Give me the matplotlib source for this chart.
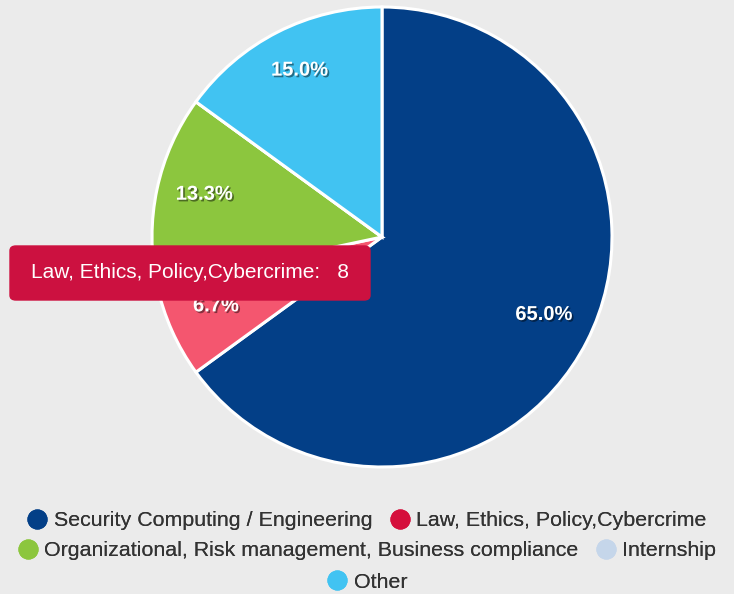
import matplotlib
matplotlib.use("Agg")
import matplotlib.pyplot as plt
import matplotlib.patheffects as pe
import matplotlib.transforms as mtransforms
from matplotlib.patches import FancyBboxPatch
from matplotlib.lines import Line2D

categories = ["Security Computing / Engineering", "Law, Ethics, Policy,Cybercrime",
              "Organizational, Risk management, Business compliance", "Internship", "Other"]
values = [78, 8, 16, 0, 18]
colors = ["#033f87", "#d50f3c", "#8cc63e", "#c5d6ea", "#41c3f2"]
hover_color = "#f4566f"
hover_index = 1
tooltip_text = "Law, Ethics, Policy,Cybercrime:   8"

plt.rcParams['font.family'] = ['Liberation Sans', 'DejaVu Sans']
BG = "#ebebeb"
W, H = 734, 594
fig = plt.figure(figsize=(W / 100, H / 100), dpi=100, facecolor=BG)

cx, cy, r = 382, 237, 230
ax = fig.add_axes([(cx - r) / W, (H - cy - r) / H, 2 * r / W, 2 * r / H])
ax.set_facecolor(BG)
ax.axis("off")

slice_colors = [hover_color if i == hover_index else c for i, c in enumerate(colors)]

def fmt(p):
    return "" if p < 0.05 else f"{p:.1f}%"

wedges, texts, autotexts = ax.pie(
    values, colors=slice_colors, startangle=90, counterclock=False,
    autopct=fmt, pctdistance=0.79, radius=1.0,
    wedgeprops=dict(edgecolor="white", linewidth=2.2),
    textprops=dict(color="white", fontsize=14.5, fontweight="bold"))
for t in autotexts:
    t.set_transform(mtransforms.offset_copy(t.get_transform(), fig=fig, x=0, y=5, units="dots"))
    t.set_path_effects([pe.SimplePatchShadow(offset=(1.2, -1.2), shadow_rgbFace="black", alpha=0.45),
                        pe.Normal()])
ax.set_xlim(-1, 1)
ax.set_ylim(-1, 1)
ax.set_aspect("equal")

# Legend rows
rows = [[0, 1], [2, 3], [4]]
row_y = [521, 551, 582]
for row, y in zip(rows, row_y):
    handles = [Line2D([], [], marker="o", linestyle="none", markersize=13.5,
                      markerfacecolor=colors[i], markeredgecolor=colors[i]) for i in row]
    leg = fig.legend(handles, [categories[i] for i in row], loc="center",
                     bbox_to_anchor=(0.5, 1 - y / H), ncol=len(row), frameon=False,
                     fontsize=15.4, handletextpad=0.3, columnspacing=0.8,
                     handlelength=0.95, borderaxespad=0, borderpad=0,
                     labelcolor="#333333")
    fig.add_artist(leg)

# Tooltip
x0, y0, x1, y1 = 10, 246, 370, 300
box = FancyBboxPatch((x0 / W, 1 - y1 / H), (x1 - x0) / W, (y1 - y0) / H,
                     boxstyle="round,pad=0,rounding_size=0.008", transform=fig.transFigure,
                     facecolor="#cc1140", edgecolor="#cc1140", zorder=10)
fig.add_artist(box)
fig.text((x0 + x1) / 2 / W, 1 - 272 / H, tooltip_text, color="white", fontsize=15,
         ha="center", va="center", zorder=11)

fig.savefig("out.png", dpi=100, facecolor=BG)
